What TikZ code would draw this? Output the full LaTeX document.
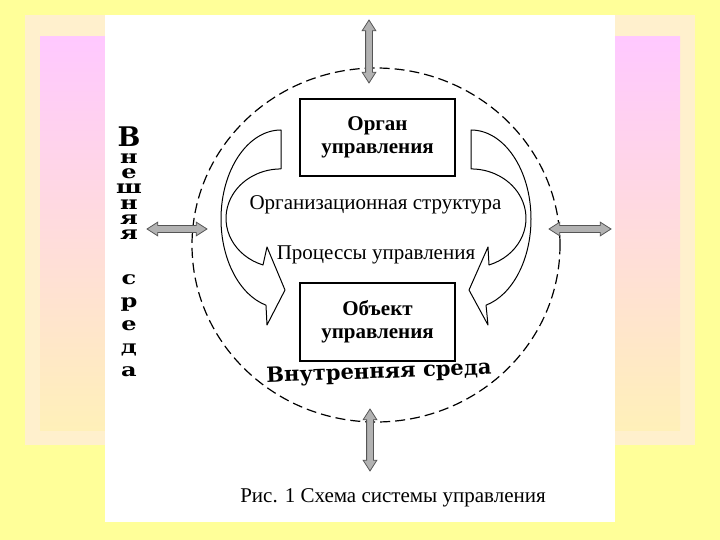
\documentclass[tikz,border=0pt]{standalone}
\usepackage{fontspec}
\setmainfont{Liberation Serif}
\newfontfamily\heavyfont{DejaVu Serif}
\newfontfamily\heavywide{DejaVu Serif}[FakeStretch=1.3]
\usepackage{tikz}
\usetikzlibrary{positioning,shapes.geometric,shapes.arrows}
\definecolor{bgyellow}{RGB}{255,255,153}
\definecolor{glowpale}{RGB}{255,240,205}
\definecolor{glowpink}{RGB}{255,200,255}
\definecolor{glowpeach}{RGB}{255,240,185}
\definecolor{arrowgray}{RGB}{178,178,178}
\definecolor{arrowedge}{RGB}{85,85,85}

\begin{document}
\begin{tikzpicture}[
  x=1pt,y=-1pt,
  unitbox/.style={draw,line width=1.2pt,minimum width=155pt,minimum height=77pt,align=center,inner sep=0pt,
    font=\fontsize{21}{23}\selectfont\bfseries},
  midtext/.style={inner sep=0pt,font=\fontsize{21}{24}\selectfont},
  heavytext/.style={inner sep=0pt,font=\heavyfont\bfseries\fontsize{21}{15}\selectfont},
  envarrow/.style={double arrow,draw=arrowedge,fill=arrowgray,line width=0.8pt,inner sep=3pt,
    double arrow head extend=3.5pt,double arrow tip angle=65,minimum height=#1},
  flowarrow/.style={draw,fill=white,line width=1pt,line join=round}
]
\useasboundingbox (0,0) rectangle (720,540);
\fill[bgyellow] (0,0) rectangle (720,540);
\fill[glowpale] (25,15) rectangle (695,445);
\shade[top color=glowpink,middle color=glowpink!75!glowpeach,bottom color=glowpeach] (40,37) rectangle (680,430);
\fill[white] (105,15) rectangle (615,522);

\node[draw,dashed,ellipse,line width=1.2pt,dash pattern=on 10pt off 5pt,minimum width=368pt,minimum height=354pt,inner sep=0pt] (innerenv) at (376,245) {};

\node[envarrow=63pt,rotate=90] (uparrow) at (369,51.5) {};
\node[envarrow=62pt,rotate=90] (downarrow) at (370,440) {};
\node[envarrow=60pt] (leftarrow) at (177,229) {};
\node[envarrow=62pt] (rightarrow) at (580,229) {};

\draw[flowarrow] (281,130) arc[start angle=270,end angle=104.5,x radius=60,y radius=89]
  -- (267,325) -- (285,290) -- (267,247) -- (263,265)
  arc[start angle=109.1,end angle=270,x radius=55,y radius=49.4] -- cycle;
\draw[flowarrow] (471,130) arc[start angle=-90,end angle=75.5,x radius=60,y radius=89]
  -- (488,325) -- (469,290) -- (488,247) -- (489,265)
  arc[start angle=70.9,end angle=-90,x radius=55,y radius=49.4] -- cycle;

\node[unitbox] (organ) at (377.5,137.5) {Орган\\управления};
\node[unitbox,minimum height=78pt] (object) at (377.5,322) {Объект\\управления};

\node[midtext] (structure) at (375.5,205) {Организационная структура};
\node[midtext] (process) at (376,255) {Процессы управления};

\node[heavytext,rotate=2] (innername) at (379,373) {Внутренняя среда};
\node[heavytext,font=\heavywide\bfseries\fontsize{18.5}{15.3}\selectfont,align=center,anchor=north] (outername) at (129,127)
  {{\heavyfont\fontsize{27}{15.3}\selectfont В}\\[1pt]н\\е\\ш\\н\\я\\я\\[30pt]с\\[7.5pt]р\\[7.5pt]е\\[7.5pt]д\\[7.5pt]а};

\node[midtext] (caption) at (393,498) {Рис. 1 Схема системы управления};
\end{tikzpicture}
\end{document}
